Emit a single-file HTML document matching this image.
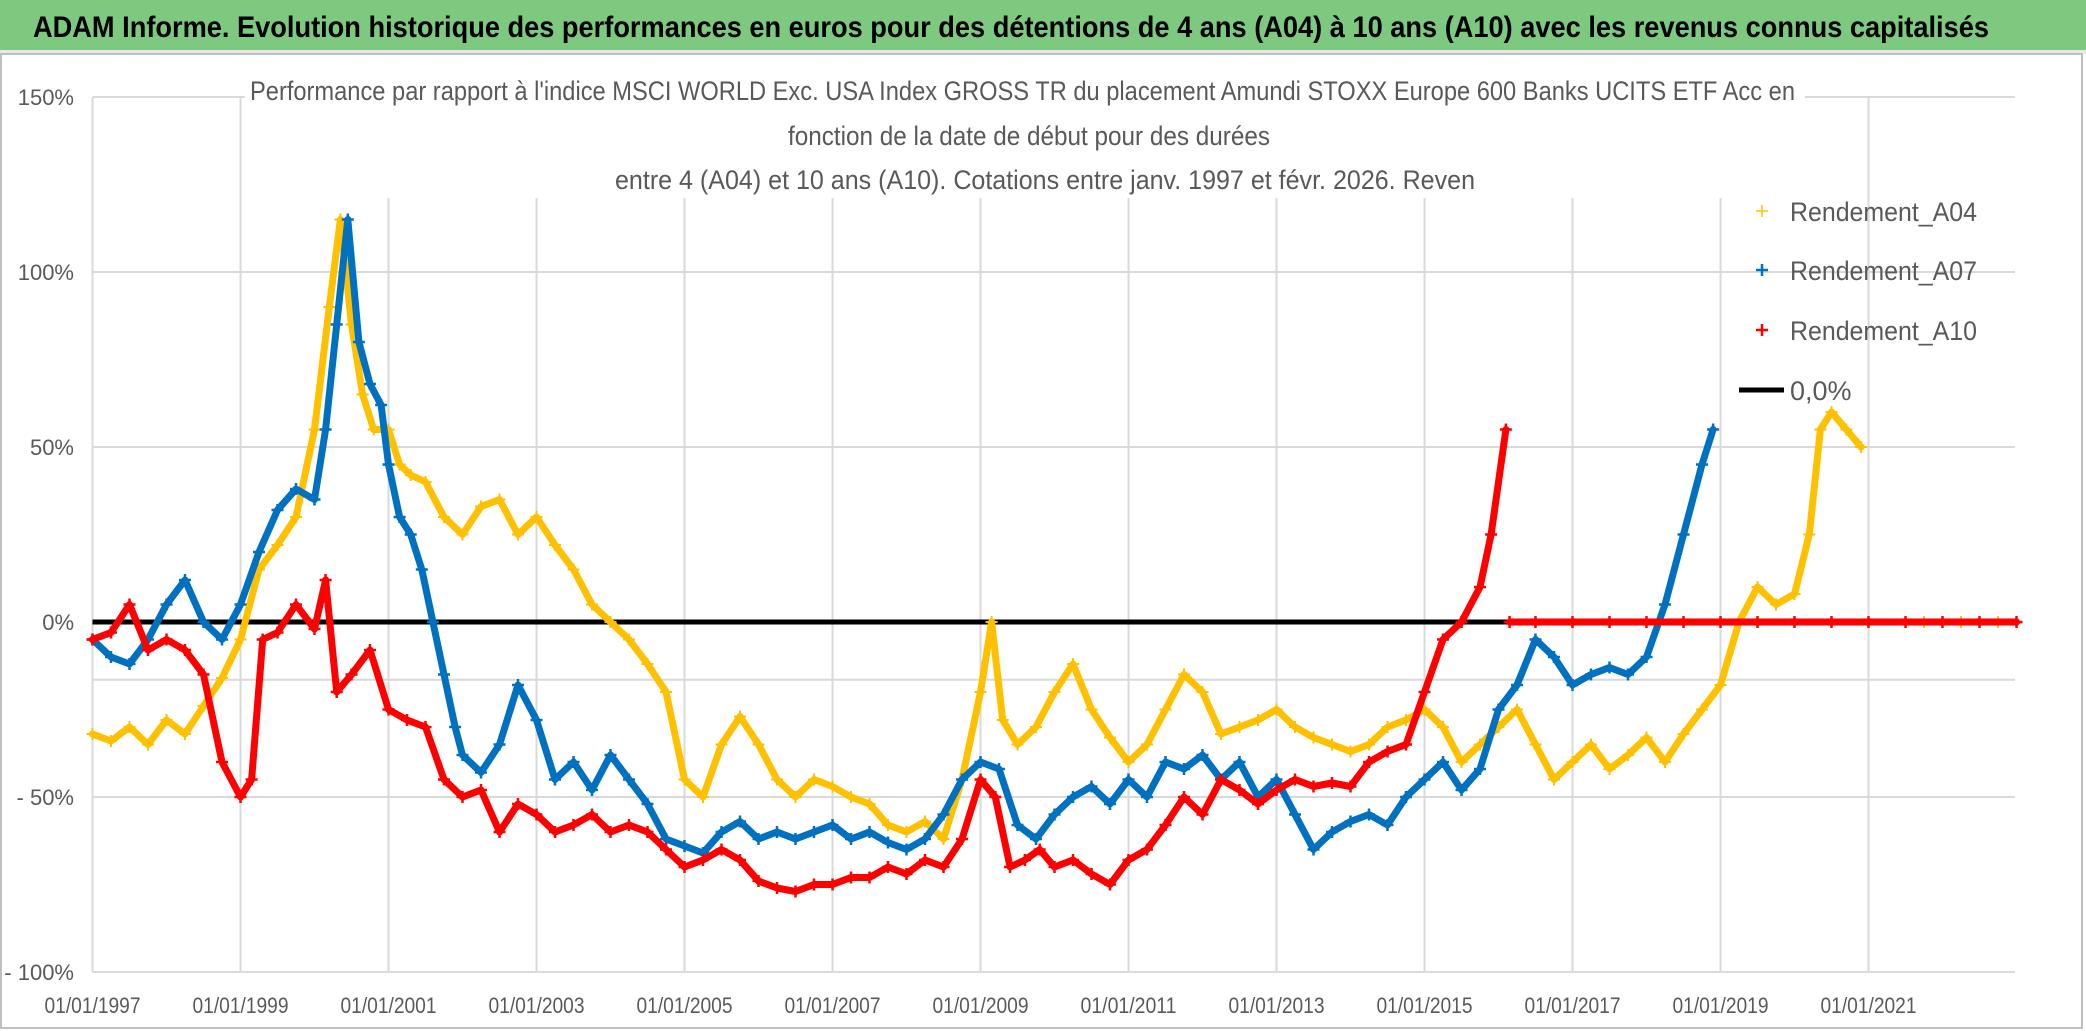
<!DOCTYPE html>
<html><head><meta charset="utf-8"><style>
html,body{margin:0;padding:0;background:#fff;}
svg{display:block;}
text{font-family:"Liberation Sans Narrow","Liberation Sans",sans-serif;}
</style></head><body>
<svg id="chart" width="2086" height="1031" viewBox="0 0 2086 1031" xmlns="http://www.w3.org/2000/svg">
<rect x="0" y="0" width="2086" height="1031" fill="#fff"/>
<rect x="0" y="0" width="2086" height="50" fill="#7dc97f"/>
<rect x="0" y="50" width="2086" height="4" fill="#e8e8e8"/>
<rect x="1" y="54" width="2081" height="974" fill="none" stroke="#bfbfbf" stroke-width="2"/>
<text x="33" y="37" font-size="30" font-weight="bold" fill="#000" textLength="1956" lengthAdjust="spacingAndGlyphs">ADAM Informe. Evolution historique des performances en euros pour des détentions de 4 ans (A04) à 10 ans (A10) avec les revenus connus capitalisés</text>
<g id="grid"></g>
<g id="axes"></g>
<rect x="245" y="70" width="1560" height="128" fill="#fff"/>
<text x="250" y="100" font-size="27" fill="#595959" textLength="1545" lengthAdjust="spacingAndGlyphs">Performance par rapport à l'indice MSCI WORLD Exc. USA Index GROSS TR  du placement Amundi STOXX Europe 600 Banks UCITS ETF Acc en</text>
<text x="788" y="145" font-size="27" fill="#595959" textLength="482" lengthAdjust="spacingAndGlyphs">fonction de la date de début pour des durées</text>
<text x="615" y="189" font-size="27" fill="#595959" textLength="860" lengthAdjust="spacingAndGlyphs">entre 4 (A04) et 10 ans (A10). Cotations entre janv. 1997 et févr. 2026. Reven</text>
<g id="series"></g>
<g id="legend">
  <g><path d="M1756 211h12M1762 205v12" stroke="#ffc000" stroke-width="1.5"/><text x="1790" y="221" font-size="27" fill="#595959" textLength="187" lengthAdjust="spacingAndGlyphs">Rendement_A04</text></g>
  <g><path d="M1756 270h12M1762 264v12" stroke="#0070c0" stroke-width="2.5"/><text x="1790" y="280" font-size="27" fill="#595959" textLength="187" lengthAdjust="spacingAndGlyphs">Rendement_A07</text></g>
  <g><path d="M1756 330h12M1762 324v12" stroke="#ff0000" stroke-width="2.5"/><text x="1790" y="340" font-size="27" fill="#595959" textLength="187" lengthAdjust="spacingAndGlyphs">Rendement_A10</text></g>
  <g><line x1="1739" y1="390" x2="1784" y2="390" stroke="#000" stroke-width="5"/><text x="1790" y="400" font-size="27" fill="#595959">0,0%</text></g>
</g>
</svg>
<script>
const yTicks=[150,100,50,0,-50,-100];
const yTickLabels=["150%","100%","50%","0%","- 50%","- 100%"];
const xTicks=[1997,1999,2001,2003,2005,2007,2009,2011,2013,2015,2017,2019,2021];
const xTickLabels=["01/01/1997","01/01/1999","01/01/2001","01/01/2003","01/01/2005","01/01/2007","01/01/2009","01/01/2011","01/01/2013","01/01/2015","01/01/2017","01/01/2019","01/01/2021"];
const datesA04=[1997,1997.25,1997.5,1997.75,1998,1998.25,1998.5,1998.75,1999,1999.25,1999.5,1999.75,2000,2000.2,2000.35,2000.5,2000.65,2000.8,2001,2001.15,2001.3,2001.5,2001.75,2002,2002.25,2002.5,2002.75,2003,2003.25,2003.5,2003.75,2004,2004.25,2004.5,2004.75,2005,2005.25,2005.5,2005.75,2006,2006.25,2006.5,2006.75,2007,2007.25,2007.5,2007.75,2008,2008.25,2008.5,2008.75,2009,2009.15,2009.3,2009.5,2009.75,2010,2010.25,2010.5,2010.75,2011,2011.25,2011.5,2011.75,2012,2012.25,2012.5,2012.75,2013,2013.25,2013.5,2013.75,2014,2014.25,2014.5,2014.75,2015,2015.25,2015.5,2015.75,2016,2016.25,2016.5,2016.75,2017,2017.25,2017.5,2017.75,2018,2018.25,2018.5,2018.75,2019,2019.25,2019.5,2019.75,2020,2020.2,2020.35,2020.5,2020.7,2020.9,2021.5,2021.75,2022,2022.25,2022.5,2022.75,2023];
const valuesA04=[-32,-34,-30,-35,-28,-32,-24,-16,-5,15,22,30,55,90,115,85,65,55,55,45,42,40,30,25,33,35,25,30,22,15,5,0,-5,-12,-20,-45,-50,-35,-27,-35,-45,-50,-45,-47,-50,-52,-58,-60,-57,-62,-45,-20,0,-28,-35,-30,-20,-12,-25,-33,-40,-35,-25,-15,-20,-32,-30,-28,-25,-30,-33,-35,-37,-35,-30,-28,-25,-30,-40,-35,-30,-25,-35,-45,-40,-35,-42,-38,-33,-40,-32,-25,-18,0,10,5,8,25,55,60,55,50,null,0,0,0,0,0,0];
const datesA07=[1997,1997.25,1997.5,1997.75,1998,1998.25,1998.5,1998.75,1999,1999.25,1999.5,1999.75,2000,2000.15,2000.3,2000.45,2000.6,2000.75,2000.9,2001,2001.15,2001.3,2001.45,2001.6,2001.75,2001.9,2002,2002.25,2002.5,2002.75,2003,2003.25,2003.5,2003.75,2004,2004.25,2004.5,2004.75,2005,2005.25,2005.5,2005.75,2006,2006.25,2006.5,2006.75,2007,2007.25,2007.5,2007.75,2008,2008.25,2008.5,2008.75,2009,2009.25,2009.5,2009.75,2010,2010.25,2010.5,2010.75,2011,2011.25,2011.5,2011.75,2012,2012.25,2012.5,2012.75,2013,2013.25,2013.5,2013.75,2014,2014.25,2014.5,2014.75,2015,2015.25,2015.5,2015.75,2016,2016.25,2016.5,2016.75,2017,2017.25,2017.5,2017.75,2018,2018.25,2018.5,2018.75,2018.9];
const valuesA07=[-5,-10,-12,-5,5,12,0,-5,5,20,32,38,35,55,85,115,80,68,62,45,30,25,15,0,-15,-30,-38,-43,-35,-18,-28,-45,-40,-48,-38,-45,-52,-62,-64,-66,-60,-57,-62,-60,-62,-60,-58,-62,-60,-63,-65,-62,-55,-45,-40,-42,-58,-62,-55,-50,-47,-52,-45,-50,-40,-42,-38,-45,-40,-50,-45,-55,-65,-60,-57,-55,-58,-50,-45,-40,-48,-42,-25,-18,-5,-10,-18,-15,-13,-15,-10,5,25,45,55];
const datesA10=[1997,1997.25,1997.5,1997.75,1998,1998.25,1998.5,1998.75,1999,1999.15,1999.3,1999.5,1999.75,2000,2000.15,2000.3,2000.5,2000.75,2001,2001.25,2001.5,2001.75,2002,2002.25,2002.5,2002.75,2003,2003.25,2003.5,2003.75,2004,2004.25,2004.5,2004.75,2005,2005.25,2005.5,2005.75,2006,2006.25,2006.5,2006.75,2007,2007.25,2007.5,2007.75,2008,2008.25,2008.5,2008.75,2009,2009.2,2009.4,2009.6,2009.8,2010,2010.25,2010.5,2010.75,2011,2011.25,2011.5,2011.75,2012,2012.25,2012.5,2012.75,2013,2013.25,2013.5,2013.75,2014,2014.25,2014.5,2014.75,2015,2015.25,2015.5,2015.75,2015.9,2016.1,2016.11,2016.15,2016.5,2017,2017.5,2018,2018.5,2019,2019.5,2020,2020.5,2021,2021.5,2022,2022.5,2023];
const valuesA10=[-5,-3,5,-8,-5,-8,-15,-40,-50,-45,-5,-3,5,-2,12,-20,-15,-8,-25,-28,-30,-45,-50,-48,-60,-52,-55,-60,-58,-55,-60,-58,-60,-65,-70,-68,-65,-68,-74,-76,-77,-75,-75,-73,-73,-70,-72,-68,-70,-62,-45,-50,-70,-68,-65,-70,-68,-72,-75,-68,-65,-58,-50,-55,-45,-48,-52,-48,-45,-47,-46,-47,-40,-37,-35,-20,-5,0,10,25,55,null,0,0,0,0,0,0,0,0,0,0,0,0,0,0,0,0];

const NS="http://www.w3.org/2000/svg";
const X0=92.5, XPY=74, Y0=622, YPP=3.5;
function xScale(d){return X0+(d-1997)*XPY;}
function yScale(v){return Y0-v*YPP;}
function mk(tag,attrs,parent){const e=document.createElementNS(NS,tag);for(const k in attrs)e.setAttribute(k,attrs[k]);parent.appendChild(e);return e;}
const grid=document.getElementById('grid'), axes=document.getElementById('axes'), series=document.getElementById('series');
const plotRight=2015;
yTicks.forEach((v,i)=>{
  const l=mk('line',{x1:xScale(1997),x2:plotRight,y1:yScale(v),y2:yScale(v),stroke:'#d9d9d9','stroke-width':2},grid);
  
  
  const t=mk('text',{x:74,y:yScale(v)+8,'font-size':22,fill:'#595959','text-anchor':'end'},axes);
  t.textContent=yTickLabels[i];
  
  
});
{const l=mk('line',{x1:xScale(1997),x2:plotRight,y1:yScale(-16.5),y2:yScale(-16.5),stroke:'#d9d9d9','stroke-width':2},grid);

}
xTicks.forEach((d,i)=>{
  const l=mk('line',{x1:xScale(d),x2:xScale(d),y1:yScale(150),y2:yScale(-100),stroke:'#d9d9d9','stroke-width':2},grid);
  
  
  const t=mk('text',{x:xScale(d),y:1013,'font-size':22,fill:'#595959','text-anchor':'middle',textLength:96,lengthAdjust:'spacingAndGlyphs'},axes);
  t.textContent=xTickLabels[i];
  
  
});
{const z=mk('line',{x1:xScale(1997),x2:plotRight,y1:yScale(0),y2:yScale(0),stroke:'#000','stroke-width':5},series);

}
function drawSeries(dates,vals,color,sw,name){
  const g=mk('g',{},series);
  
  
  let seg=[];const segs=[];
  dates.forEach((d,i)=>{if(vals[i]===null){if(seg.length)segs.push(seg);seg=[];}else seg.push([xScale(d),yScale(vals[i])]);});
  if(seg.length)segs.push(seg);
  segs.forEach(s=>{
    const p=mk('polyline',{points:s.map(q=>q.join(',')).join(' '),fill:'none',stroke:color,'stroke-width':7,'stroke-linejoin':'round','stroke-linecap':'round'},g);
    
    
  });
  dates.forEach((d,i)=>{if(vals[i]===null)return;const x=xScale(d),y=yScale(vals[i]);
    const m=mk('path',{d:`M${x-6} ${y}h12M${x} ${y-6}v12`,stroke:color,'stroke-width':sw},g);
    
    
  });
}
drawSeries(datesA04,valuesA04,'#ffc000',2,'series-a04');
drawSeries(datesA07,valuesA07,'#0070c0',2.5,'series-a07');
drawSeries(datesA10,valuesA10,'#ff0000',2.5,'series-a10');
</script>
</body></html>
